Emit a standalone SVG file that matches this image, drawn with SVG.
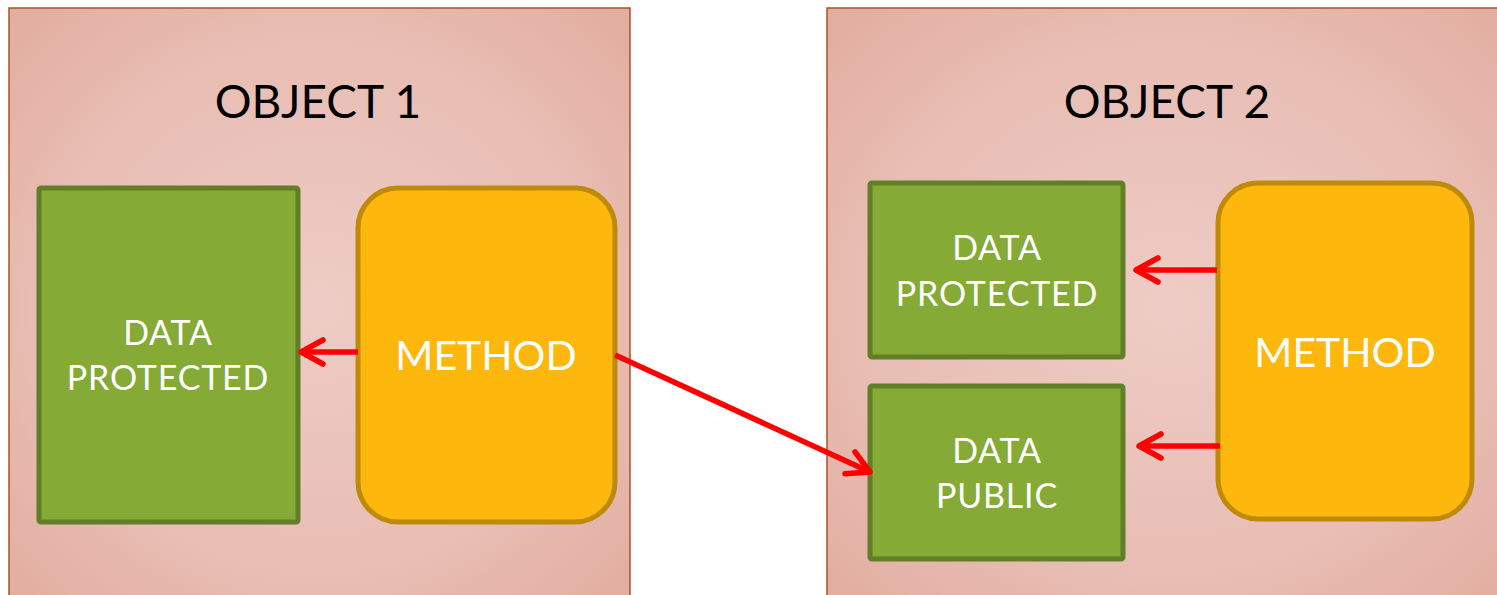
<svg xmlns="http://www.w3.org/2000/svg" width="1497" height="595" viewBox="0 0 1497 595">
  <defs>
    <radialGradient id="panelGrad" cx="50%" cy="50%" r="75%">
      <stop offset="0" stop-color="#eeccc5"/>
      <stop offset="0.6" stop-color="#e8bdb3"/>
      <stop offset="1" stop-color="#e1a99b"/>
    </radialGradient>
    <marker id="arrow" markerUnits="userSpaceOnUse" viewBox="-30 -16 34 32" refX="0" refY="0" markerWidth="34" markerHeight="32" orient="auto" overflow="visible">
      <path d="M -22 -12 L 0 0 L -22 12" fill="none" stroke="#ff0000" stroke-width="5.5" stroke-linecap="round" stroke-linejoin="round"/>
    </marker>
    <style>
      .panel { fill: url(#panelGrad); stroke: #a8532a; stroke-width: 1.5; }
      .data { fill: #85aa35; stroke: #617f27; stroke-width: 5; }
      .method { fill: #feb70d; stroke: #be8a07; stroke-width: 5; }
      .title { font-family: Lato, "Open Sans", "Liberation Sans", sans-serif; font-size: 46px; fill: #000; text-anchor: middle; }
      .label { font-family: Lato, "Open Sans", "Liberation Sans", sans-serif; font-size: 34px; letter-spacing: 0.8px; fill: #fff; text-anchor: middle; }
      .mlabel { font-family: Lato, "Open Sans", "Liberation Sans", sans-serif; font-size: 41px; fill: #fff; text-anchor: middle; }
      .conn { fill: none; stroke: #ff0000; stroke-width: 5.5; marker-end: url(#arrow); }
    </style>
  </defs>
  <rect width="1497" height="595" fill="#ffffff"/>

  <g id="object1">
    <rect class="panel" x="9" y="8" width="621" height="600"/>
    <text class="title" x="318" y="118">OBJECT 1</text>
  </g>
  <g id="object2">
    <rect class="panel" x="827" y="8" width="690" height="600"/>
    <text class="title" x="1167" y="118">OBJECT 2</text>
  </g>

  <g id="data1">
    <rect class="data" x="39" y="188" width="259" height="334" rx="2"/>
    <text class="label" x="168" y="345">DATA</text>
    <text class="label" x="168" y="390">PROTECTED</text>
  </g>
  <g id="method1">
    <rect class="method" x="358" y="188" width="257" height="334" rx="40"/>
    <text class="mlabel" x="486" y="370">METHOD</text>
  </g>

  <g id="data2protected">
    <rect class="data" x="870" y="183" width="253" height="174" rx="2"/>
    <text class="label" x="997" y="260">DATA</text>
    <text class="label" x="997" y="306">PROTECTED</text>
  </g>
  <g id="data2public">
    <rect class="data" x="870" y="386" width="253" height="173" rx="2"/>
    <text class="label" x="997" y="463">DATA</text>
    <text class="label" x="997" y="508">PUBLIC</text>
  </g>
  <g id="method2">
    <rect class="method" x="1218" y="183" width="254" height="336" rx="40"/>
    <text class="mlabel" x="1345" y="367">METHOD</text>
  </g>

  <g id="connectors">
    <path class="conn" d="M 358 352 L 301 352"/>
    <path class="conn" d="M 615 355 L 870 472"/>
    <path class="conn" d="M 1217 270 L 1136 270"/>
    <path class="conn" d="M 1220 446 L 1139 446"/>
  </g>
</svg>
